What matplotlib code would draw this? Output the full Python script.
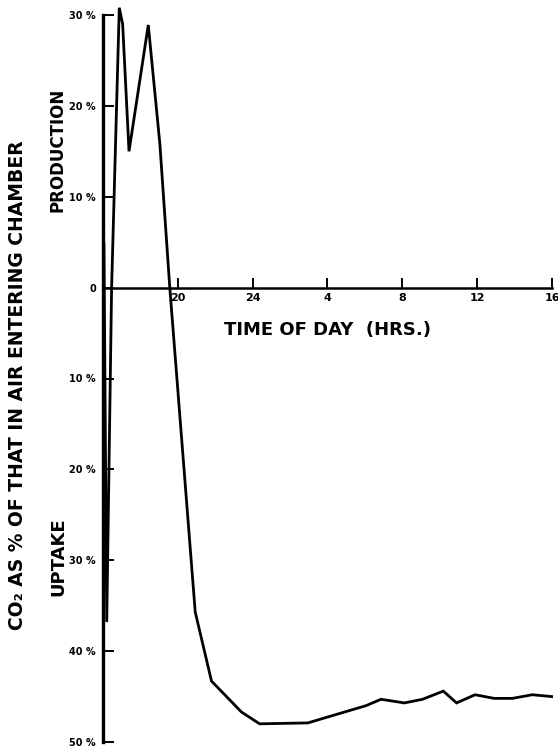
import matplotlib
matplotlib.use('Agg')
import matplotlib.pyplot as plt

# Hora del día en escala continua (16 h del primer día -> 16 h del día siguiente = 40)
horas = [16.05, 16.20, 16.46, 16.87, 17.05, 17.39, 18.42, 19.04, 19.57,
         20.93, 21.80, 23.40, 24.37, 26.95, 28.91, 30.06, 30.86, 32.11,
         33.08, 34.19, 34.90, 35.89, 36.91, 37.88, 38.95, 39.98]
# CO2 como % del aire que entra (positivo = producción, negativo = absorción)
co2_pct = [4.8, -36.8, 0.0, 30.8, 29.0, 15.0, 28.9, 15.8, 0.0,
           -35.7, -43.3, -46.7, -48.0, -47.9, -46.7, -46.0, -45.3, -45.7,
           -45.3, -44.4, -45.7, -44.8, -45.2, -45.2, -44.8, -45.0]

ticks_x = [20, 24, 28, 32, 36, 40]
etiquetas_x = ['20', '24', '4', '8', '12', '16']
ticks_y = [30, 20, 10, 0, -10, -20, -30, -40, -50]
etiquetas_y = ['30 %', '20 %', '10 %', '0', '10 %', '20 %', '30 %', '40 %', '50 %']

fig = plt.figure(figsize=(5.58, 7.5), dpi=100)
ax = fig.add_axes([103 / 558, 8 / 750, 449 / 558, 727 / 750])

ax.plot(horas, co2_pct, color='black', lw=2.0, clip_on=False,
        solid_joinstyle='miter')

ax.set_xlim(16, 40)
ax.set_ylim(-50, 30)

# ejes estilo dibujo técnico
ax.spines['top'].set_visible(False)
ax.spines['right'].set_visible(False)
ax.spines['bottom'].set_position(('data', 0))
ax.spines['left'].set_linewidth(2.4)
ax.spines['bottom'].set_linewidth(1.8)

ax.set_xticks(ticks_x)
ax.set_xticklabels(etiquetas_x)
ax.set_yticks(ticks_y)
ax.set_yticklabels(etiquetas_y)
ax.tick_params(axis='x', direction='in', length=7, width=1.4, pad=4,
               labelsize=8)
ax.tick_params(axis='y', direction='in', length=8, width=1.4, pad=5,
               labelsize=7)
for lab in ax.get_xticklabels() + ax.get_yticklabels():
    lab.set_fontweight('bold')

fig.text(328 / 558, 1 - 330 / 750, 'TIME OF DAY  (HRS.)', ha='center',
         va='center', fontsize=13, fontweight='bold')
fig.text(58 / 558, 1 - 150 / 750, 'PRODUCTION', rotation=90, ha='center',
         va='center', fontsize=12, fontweight='bold')
fig.text(58 / 558, 1 - 557 / 750, 'UPTAKE', rotation=90, ha='center',
         va='center', fontsize=13, fontweight='bold')
fig.text(18 / 558, 1 - 385 / 750, 'CO₂ AS % OF THAT IN AIR ENTERING CHAMBER',
         rotation=90, ha='center', va='center', fontsize=13.5,
         fontweight='bold')

fig.savefig('out.png', dpi=100)
